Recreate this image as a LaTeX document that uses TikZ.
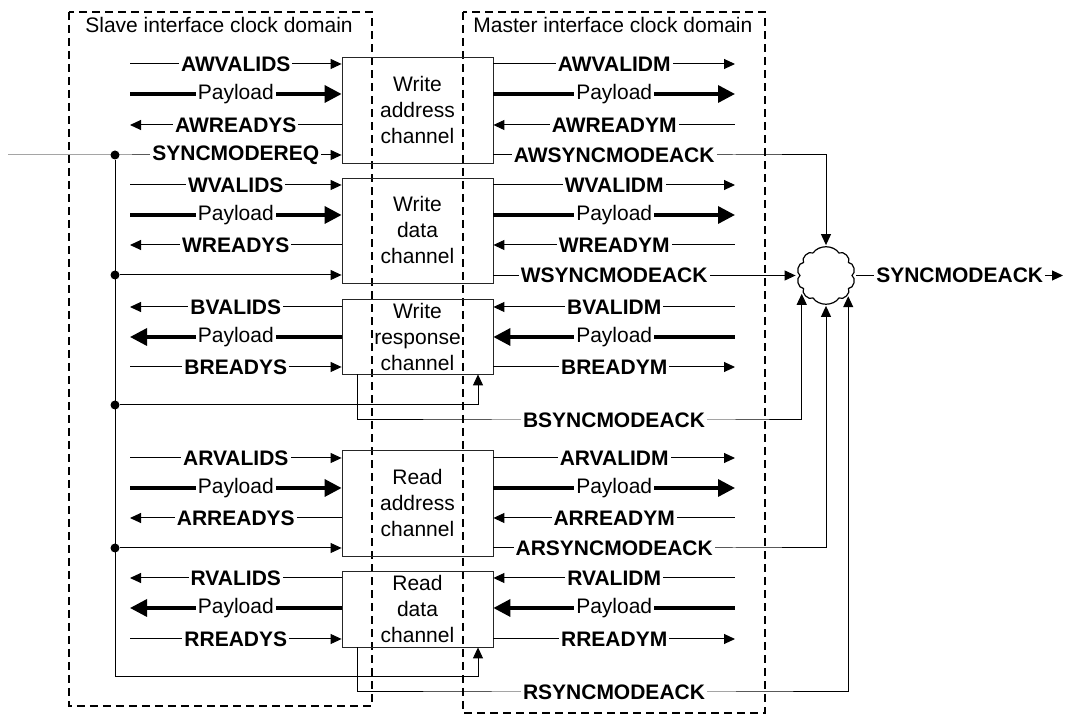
\documentclass[tikz,border=0pt]{standalone}
\usepackage{fontspec}
\setmainfont{Liberation Sans}
\usetikzlibrary{positioning}
\usetikzlibrary{arrows.meta}
\tikzstyle{chanbox}=[draw=black!85,minimum width=75.5pt,align=center,inner sep=0pt,font=\fontsize{10.5}{13}\selectfont]
\tikzstyle{sigfwd}=[-{Triangle[length=5.5pt,width=5pt]},line width=0.5pt]
\tikzstyle{sigbwd}=[{Triangle[length=5.5pt,width=5pt]}-,line width=0.5pt]
\tikzstyle{busfwd}=[-{Triangle[length=8.5pt,width=8.5pt]},line width=1.7pt]
\tikzstyle{busbwd}=[{Triangle[length=8.5pt,width=8.5pt]}-,line width=1.7pt]
\tikzstyle{siglbl}=[fill=white,inner sep=1pt,font=\fontsize{10.5}{13}\selectfont\bfseries]
\tikzstyle{buslbl}=[fill=white,inner sep=1pt,font=\fontsize{10.5}{13}\selectfont]
\tikzstyle{clkdomain}=[draw,line width=1.1pt,dash pattern=on 4pt off 2.5pt]
\tikzstyle{junction}=[circle,fill=black,draw=none,minimum size=4.5pt,inner sep=0pt]
\tikzstyle{merge}=[circle,draw=none,minimum size=30pt,inner sep=0pt]

\begin{document}
\begin{tikzpicture}[x=0.5pt, y=-0.5pt]

  \useasboundingbox (0,0) rectangle (1067,715);

  % clock domains
  \draw[clkdomain] (69,12) rectangle (372,706);
  \draw[clkdomain] (463,12) rectangle (765,713);
  \node[anchor=base west, inner sep=0pt, font=\fontsize{10.5}{13}\selectfont] (slavelbl) at (85,33) {Slave interface clock domain};
  \node[anchor=base west, inner sep=0pt, font=\fontsize{10.5}{13}\selectfont] (masterlbl) at (473,33) {Master interface clock domain};

  % channels
  \node[chanbox, minimum height=53pt] (wa) at (417.5,110) {Write\\address\\channel};
  \node[chanbox, minimum height=52.5pt] (wd) at (417.5,230.5) {Write\\data\\channel};
  \node[chanbox, minimum height=37.5pt] (wr) at (417.5,336.5) {Write\\response\\channel};
  \node[chanbox, minimum height=53pt] (ra) at (417.5,503) {Read\\address\\channel};
  \node[chanbox, minimum height=38pt] (rd) at (417.5,609) {Read\\data\\channel};

  \foreach \blk/\y/\stxt/\mtxt/\sty/\ls in {wa/64/AWVALIDS/AWVALIDM/sigfwd/siglbl, wa/94/Payload/Payload/busfwd/buslbl, wa/125/AWREADYS/AWREADYM/sigbwd/siglbl,
      wd/185/WVALIDS/WVALIDM/sigfwd/siglbl, wd/215/Payload/Payload/busfwd/buslbl, wd/245/WREADYS/WREADYM/sigbwd/siglbl,
      wr/307/BVALIDS/BVALIDM/sigbwd/siglbl, wr/337/Payload/Payload/busbwd/buslbl, wr/367/BREADYS/BREADYM/sigfwd/siglbl,
      ra/458/ARVALIDS/ARVALIDM/sigfwd/siglbl, ra/488/Payload/Payload/busfwd/buslbl, ra/518/ARREADYS/ARREADYM/sigbwd/siglbl,
      rd/578/RVALIDS/RVALIDM/sigbwd/siglbl, rd/608/Payload/Payload/busbwd/buslbl, rd/639/RREADYS/RREADYM/sigfwd/siglbl}
  {
    \draw[\sty] (130,\y) -- node[\ls]{\stxt} (130,\y -| \blk.west);
    \draw[\sty] (735,\y -| \blk.east) -- node[\ls]{\mtxt} (735,\y);
  }

  % sync mode request
  \coordinate (reqin) at (8,155);
  \foreach \name/\y in {jaw/155, jw/275, jb/405, jar/548}
    \node[junction] (\name) at (115,\y) {};

  \draw[sigfwd] (reqin) -- (130,155) -- node[siglbl]{SYNCMODEREQ} (130,155 -| wa.west);
  \draw[sigfwd] (jaw) -- (115,677) -| (rd.south -| 478,0);
  \draw[sigfwd] (jw) -- (jw -| wd.west);
  \draw[sigfwd] (jb) -| (wr.south -| 478,0);
  \draw[sigfwd] (jar) -- (jar -| ra.west);

  % sync mode acknowledge
  \node[merge] (ack) at (826,275.5) {};
  \draw[line width=0.6pt, shift={(ack.center)}] (120:13pt) to[bend left=55] (60:13pt)
    \foreach \a in {30,0,-30,-60} {to[bend left=75] (\a:13pt)}
    to[bend left=55] (-120:13pt)
    \foreach \a in {-150,-180,-210,-240} {to[bend left=75] (\a:13pt)};

  \draw[sigfwd] (wa.east |- 0,155) -- node[siglbl]{AWSYNCMODEACK} (735,155) -| (ack.north);
  \draw[sigfwd] (wd.east |- 0,275.5) -- node[siglbl]{WSYNCMODEACK} (735,275.5) -- (ack.west);
  \draw[sigfwd] (wr.south -| 357,0) |- (493,420) -- node[siglbl]{BSYNCMODEACK} (735,420) -| (ack.-143);
  \draw[sigfwd] (ra.east |- 0,548) -- node[siglbl]{ARSYNCMODEACK} (735,548) -| (ack.south);
  \draw[sigfwd] (rd.south -| 357,0) |- (493,692) -- node[siglbl]{RSYNCMODEACK} (735,692) -| (ack.-43);
  \draw[sigfwd] (ack.east) -- node[siglbl]{SYNCMODEACK} (1063,275.5);

\end{tikzpicture}
\end{document}
